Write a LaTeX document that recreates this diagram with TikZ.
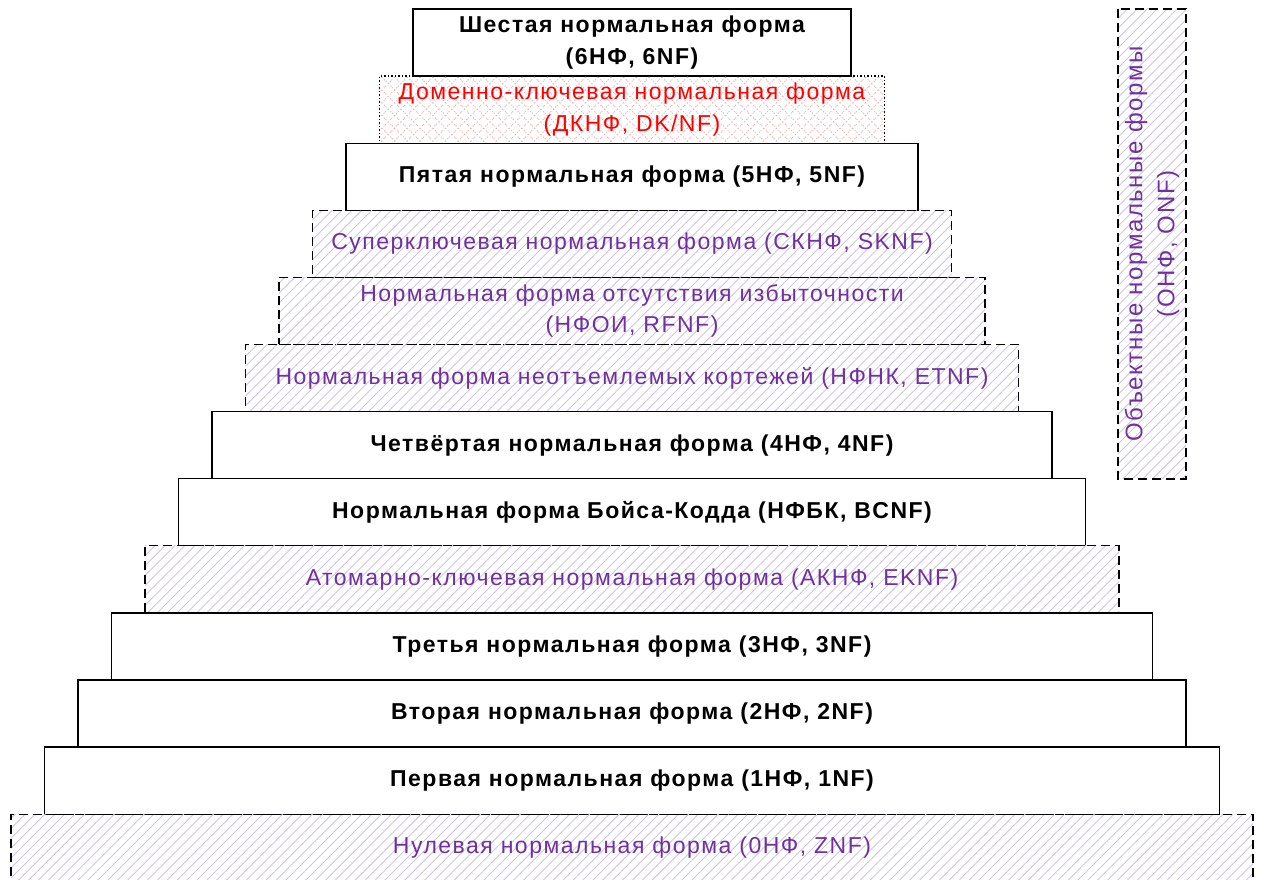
\documentclass[tikz,border=0pt]{standalone}
\usepackage{fontspec}
\setmainfont{Liberation Sans}[LetterSpace=6.5]
\usepackage{tikz}
\usetikzlibrary{positioning, patterns.meta}
\definecolor{nf_black}{HTML}{000000}
\definecolor{nf_purple}{HTML}{7030A0}
\definecolor{nf_red}{HTML}{FF0000}
\definecolor{nf_lavender}{HTML}{D0C6E4}
\definecolor{nf_pink}{HTML}{EDB9B9}

\begin{document}
\begin{tikzpicture}[
    x=1pt, y=1pt,
    nfbox/.style={draw=nf_black, line width=1.3pt, minimum height=67.1pt,
        inner sep=0pt, outer sep=0pt, align=center,
        font=\fontsize{23}{32}\selectfont},
    solidbox/.style={nfbox, font=\fontsize{23}{32}\selectfont\bfseries},
    dashbox/.style={nfbox, dash pattern=on 9pt off 5pt, text=nf_purple,
        pattern={Lines[angle=45, distance=7pt, line width=0.9pt]},
        pattern color=nf_lavender},
    dotbox/.style={nfbox, dash pattern=on 1.3pt off 2.2pt, text=nf_red,
        pattern={Hatch[angle=45, distance=9pt, line width=0.9pt]},
        pattern color=nf_pink}
]

\clip (0, 0) rectangle (1261, 879);

%% ================================================================
%% ПИРАМИДА: сверху вниз, ширина +67 на каждой ступени
%% ================================================================
\node[solidbox, minimum width=438pt] (nf6) at (632, 836.45)
    {Шестая нормальная форма\\(6НФ, 6NF)};
\node[dotbox, minimum width=505pt, below=0pt of nf6] (dknf)
    {Доменно-ключевая нормальная форма\\(ДКНФ, DK/NF)};
\node[solidbox, minimum width=572pt, below=0pt of dknf] (nf5)
    {Пятая нормальная форма (5НФ, 5NF)};
\node[dashbox, minimum width=639pt, below=0pt of nf5] (sknf)
    {Суперключевая нормальная форма (СКНФ, SKNF)};
\node[dashbox, minimum width=706pt, below=0pt of sknf] (rfnf)
    {Нормальная форма отсутствия избыточности\\(НФОИ, RFNF)};
\node[dashbox, minimum width=773pt, below=0pt of rfnf] (etnf)
    {Нормальная форма неотъемлемых кортежей (НФНК, ETNF)};
\node[solidbox, minimum width=840pt, below=0pt of etnf] (nf4)
    {Четвёртая нормальная форма (4НФ, 4NF)};
\node[solidbox, minimum width=907pt, below=0pt of nf4] (bcnf)
    {Нормальная форма Бойса-Кодда (НФБК, BCNF)};
\node[dashbox, minimum width=974pt, below=0pt of bcnf] (eknf)
    {Атомарно-ключевая нормальная форма (АКНФ, EKNF)};
\node[solidbox, minimum width=1041pt, below=0pt of eknf] (nf3)
    {Третья нормальная форма (3НФ, 3NF)};
\node[solidbox, minimum width=1108pt, below=0pt of nf3] (nf2)
    {Вторая нормальная форма (2НФ, 2NF)};
\node[solidbox, minimum width=1175pt, below=0pt of nf2] (nf1)
    {Первая нормальная форма (1НФ, 1NF)};
\node[dashbox, minimum width=1242pt, below=0pt of nf1] (nf0)
    {Нулевая нормальная форма (0НФ, ZNF)};

%% ================================================================
%% СПРАВА: объектные нормальные формы
%% ================================================================
\node[dashbox, rotate=90, minimum width=470pt, minimum height=68pt,
    font=\fontsize{24}{32}\selectfont]
    (onf) at (1152, 635)
    {Объектные нормальные формы\\(ОНФ, ONF)};

\end{tikzpicture}
\end{document}
